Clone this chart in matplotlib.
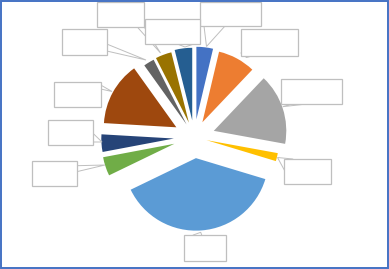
import matplotlib
matplotlib.use("Agg")
import matplotlib.pyplot as plt
from matplotlib.patches import Rectangle

# ---- data (share of the whole) ----
values = [3.7, 8.4, 15.8, 1.8, 38.2, 4.2, 3.9, 14.2, 2.4, 3.6, 3.9]
colors = ["#4472C4", "#ED7D31", "#A5A5A5", "#FFC000", "#5B9BD5", "#70AD47",
          "#264478", "#9E480E", "#636363", "#997300", "#255E91"]

# ---- layout (pixel coordinates, y downwards) ----
W, H = 389, 269
center = (194.3, 137.2)
radius = 72.5
explode_px = [18, 17, 20.5, 12.5, 21, 21, 20.5, 20.5, 15, 15.5, 17]

# empty data-label callout boxes: (x0, y0, x1, y1)
boxes = [
    (200.0, 2.0, 260.7, 26.0),
    (240.7, 29.0, 298.0, 56.0),
    (281.0, 79.0, 342.0, 104.0),
    (284.3, 159.0, 331.0, 184.0),
    (184.3, 235.0, 225.7, 260.7),
    (32.3, 161.0, 76.7, 186.0),
    (48.3, 120.0, 92.7, 145.3),
    (54.3, 82.3, 100.7, 107.3),
    (62.0, 29.0, 106.7, 55.0),
    (96.7, 2.3, 144.0, 26.7),
    (145.0, 19.3, 200.0, 44.3),
]
leaders = [
    [(204.0, 26.0), (206.5, 46.5), (225.0, 26.0)],
    [(241.0, 53.0), (246.5, 57.5), (252.0, 56.0)],
    [(291.7, 104.0), (282.7, 106.7), (306.7, 104.0)],
    [(284.3, 170.0), (277.5, 157.5), (292.7, 159.0)],
    [(193.3, 235.0), (200.7, 232.3), (201.7, 235.0)],
    [(76.7, 165.7), (105.0, 165.0), (76.7, 171.7)],
    [(92.7, 133.0), (102.0, 142.0), (92.7, 142.0)],
    [(100.7, 85.0), (112.0, 91.5), (100.7, 89.0)],
    [(106.7, 44.0), (146.0, 60.0), (106.7, 51.0)],
    [(137.0, 26.7), (160.5, 53.0), (144.0, 26.7)],
    [(178.0, 44.3), (185.0, 47.0), (193.0, 44.3)],
]

fig = plt.figure(figsize=(W / 100, H / 100), dpi=100)
fig.patch.set_facecolor("white")
ax = fig.add_axes([0, 0, 1, 1])

# matplotlib's explode offset is in data units
ax.pie(values, colors=colors, explode=explode_px, startangle=-90,
       counterclock=True, center=center, radius=radius, frame=True,
       wedgeprops=dict(linewidth=0))

for (x0, y0, x1, y1), pts in zip(boxes, leaders):
    xs = [p[0] for p in pts]
    ys = [p[1] for p in pts]
    ax.plot(xs, ys, color="#BFBFBF", lw=0.7, zorder=3, solid_joinstyle="miter")
    ax.add_patch(Rectangle((x0, y0), x1 - x0, y1 - y0, facecolor="white",
                           edgecolor="#BFBFBF", lw=0.9, zorder=4))

ax.set_xlim(0, W)
ax.set_ylim(H, 0)
ax.set_aspect("auto")
ax.axis("off")

# outer chart border
fig.patches.append(Rectangle((1.0 / W, 1.2 / H), (W - 2.5) / W, (H - 2.2) / H,
                             transform=fig.transFigure, fill=False,
                             edgecolor="#4472C4", lw=1.4))

fig.savefig("out.png", dpi=100, facecolor="white")
